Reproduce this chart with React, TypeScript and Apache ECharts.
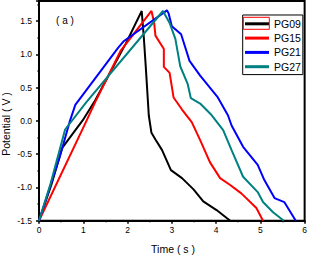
import React, { useEffect, useRef } from "react";
import * as echarts from "echarts";

const seriesNames = ["PG09", "PG15", "PG21", "PG27"];
const seriesColors = ["#000000", "#ff0000", "#0000ff", "#008080"];

const pg09: [number, number][] = [
  [0, -1.5], [0.28, -0.96], [0.52, -0.41], [0.99, 0.01], [1.27, 0.31], [1.96, 1.16], [2.32, 1.65],
  [2.37, 1.23], [2.41, 0.83], [2.48, 0.08], [2.54, -0.18], [2.63, -0.28], [2.78, -0.44],
  [2.98, -0.74], [3.23, -0.86], [3.49, -1.03], [3.71, -1.21], [4.01, -1.34], [4.24, -1.46], [4.32, -1.5],
];
const pg15: [number, number][] = [
  [0, -1.5], [1.08, 0.01], [1.29, 0.31], [1.85, 1.06], [2.11, 1.28], [2.54, 1.65],
  [2.6, 1.48], [2.63, 1.28], [2.82, 1.08], [2.82, 0.81], [2.95, 0.72], [3.04, 0.35],
  [3.23, 0.17], [3.45, -0.02], [3.64, -0.29], [3.86, -0.62], [4.09, -0.86], [4.31, -0.96],
  [4.57, -1.09], [4.91, -1.31], [5.06, -1.5],
];
const pg21: [number, number][] = [
  [0, -1.5], [0.47, -0.54], [0.69, -0.02], [0.82, 0.24], [1.07, 0.46], [1.79, 1.1], [1.92, 1.2],
  [2.89, 1.66], [2.93, 1.61], [3.0, 1.42], [3.21, 1.3], [3.4, 0.9], [3.64, 0.68], [4.03, 0.36],
  [4.27, 0.08], [4.35, -0.07], [4.61, -0.39], [4.94, -0.66], [5.09, -0.89], [5.32, -1.16],
  [5.54, -1.22], [5.8, -1.5],
];
const pg27: [number, number][] = [
  [0, -1.5], [0.25, -0.97], [0.59, -0.13], [1.07, 0.28], [2.8, 1.65],
  [2.95, 1.47], [3.08, 1.23], [3.12, 1.08], [3.19, 0.82], [3.36, 0.55], [3.43, 0.34],
  [3.64, 0.26], [3.88, 0.1], [4.16, -0.14], [4.35, -0.44], [4.61, -0.84], [4.94, -1.07],
  [5.06, -1.22], [5.28, -1.37], [5.53, -1.5],
];
const seriesData = [pg09, pg15, pg21, pg27];

const xTitle = "Time ( s )";
const yTitle = "Potential ( V )";
const panelLabel = "( a )";

export default function App() {
  const ref = useRef<HTMLDivElement>(null);
  useEffect(() => {
    if (!ref.current) return;
    const chart = echarts.init(ref.current, undefined, { renderer: "svg" });
    const font = "Arial, 'Liberation Sans', sans-serif";
    chart.setOption({
      animation: false,
      backgroundColor: "#ffffff",
      grid: {
        left: 39, right: 2.7, top: 1, bottom: 34.3,
        show: true, borderColor: "#000", borderWidth: 2, backgroundColor: "transparent",
      },
      xAxis: {
        type: "value", min: 0, max: 6, interval: 1,
        axisLine: { show: true, onZero: false, lineStyle: { color: "#000", width: 2 } },
        axisTick: { show: true, length: 3, lineStyle: { color: "#000", width: 1.5 } },
        minorTick: { show: true, splitNumber: 2, length: 1.5, lineStyle: { color: "#000", width: 1.5 } },
        splitLine: { show: false },
        axisLabel: { color: "#000", fontSize: 8.5, fontFamily: font, margin: 5 },
      },
      yAxis: {
        type: "value", min: -1.5, max: 1.8, interval: 0.5,
        axisLine: { show: true, onZero: false, lineStyle: { color: "#000", width: 2 } },
        axisTick: { show: true, length: 3, lineStyle: { color: "#000", width: 1.5 } },
        minorTick: { show: true, splitNumber: 2, length: 1.5, lineStyle: { color: "#000", width: 1.5 } },
        splitLine: { show: false },
        axisLabel: {
          color: "#000", fontSize: 8.5, fontFamily: font, margin: 7, showMaxLabel: false,
          formatter: (v: number) => v.toFixed(1),
        },
      },
      legend: {
        orient: "vertical", left: 242.7, top: 15,
        padding: [3.3, 2, 2.4, 2.3],
        borderColor: "#000", borderWidth: 1, backgroundColor: "#fff",
        itemWidth: 24, itemHeight: 3, itemGap: 3.3, icon: "rect",
        textStyle: { color: "#000", fontSize: 10.5, fontWeight: "normal", fontFamily: font, lineHeight: 10 },
        data: seriesNames,
      },
      series: seriesNames.map((name, i) => ({
        name, type: "line", data: seriesData[i], symbol: "none",
        lineStyle: { color: seriesColors[i], width: 2 },
        itemStyle: { color: seriesColors[i] },
        z: 2 + i,
      })),
      graphic: [
        {
          type: "text", x: 65, y: 20.7,
          style: { text: panelLabel, fill: "#000", font: `10px ${font}`, textAlign: "center", textVerticalAlign: "middle" },
        },
        {
          type: "text", x: 173, y: 249,
          style: { text: xTitle, fill: "#000", font: `10.5px ${font}`, textAlign: "center", textVerticalAlign: "middle" },
        },
        {
          type: "text", x: 6, y: 124, rotation: Math.PI / 2,
          style: { text: yTitle, fill: "#000", font: `10.5px ${font}`, textAlign: "center", textVerticalAlign: "middle" },
        },
        {
          type: "rect", shape: { x: 243.3, y: 17.3, width: 26, height: 12 },
          style: { fill: "none", stroke: "#ff0000", lineWidth: 1 }, z: 100,
        },
      ],
    });
    return () => chart.dispose();
  }, []);
  return <div ref={ref} style={{ position: "fixed", left: 0, top: 0, width: 310, height: 255 }} />;
}
